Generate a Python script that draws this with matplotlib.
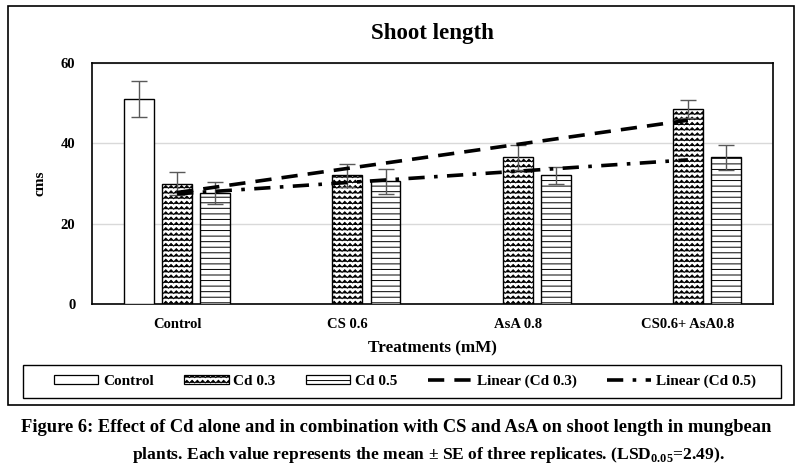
import warnings

import numpy as np
import matplotlib
matplotlib.use('Agg')
import matplotlib.pyplot as plt
import matplotlib.hatch as mhatch
from matplotlib.path import Path
from matplotlib.patches import Patch, Rectangle
from matplotlib.lines import Line2D

warnings.filterwarnings('ignore', message='hatch must consist')

treatments = ['Control', 'CS 0.6', 'AsA 0.8', 'CS0.6+ AsA0.8']
control = [51.0, None, None, None]
control_se = [4.5, None, None, None]
cd03 = [30.0, 32.0, 36.5, 48.5]
cd03_se = [2.8, 2.8, 3.1, 2.2]
cd05 = [27.6, 30.5, 32.0, 36.5]
cd05_se = [2.7, 3.2, 2.2, 3.1]


class ZigZagHatch(mhatch.HatchPatternBase):
    # excel-like zigzag fill, triggered by 'z' in the hatch string
    def __init__(self, hatch, density):
        self.rows = hatch.count('z') * 19
        self.teeth = 19
        self.per = 2 * self.teeth + 1
        self.num_vertices = self.rows * self.per

    def set_vertices_and_codes(self, vertices, codes):
        xs = np.linspace(0, 1, self.per)
        amp = 0.25 / self.rows
        sign = np.where(np.arange(self.per) % 2 == 0, -1.0, 1.0)
        for r in range(self.rows):
            y0 = (r + 0.5) / self.rows
            s = slice(r * self.per, (r + 1) * self.per)
            vertices[s, 0] = xs
            vertices[s, 1] = y0 + amp * sign
            codes[r * self.per] = Path.MOVETO
            codes[r * self.per + 1:(r + 1) * self.per] = Path.LINETO


mhatch._hatch_types.append(ZigZagHatch)

plt.rcParams['font.family'] = ['Liberation Serif', 'DejaVu Serif']
plt.rcParams['font.weight'] = 'bold'
plt.rcParams['axes.titleweight'] = 'bold'
plt.rcParams['axes.labelweight'] = 'bold'
plt.rcParams['mathtext.fontset'] = 'custom'
plt.rcParams['mathtext.rm'] = 'Liberation Serif:bold'
plt.rcParams['mathtext.bf'] = 'Liberation Serif:bold'
plt.rcParams['hatch.linewidth'] = 0.7

fig = plt.figure(figsize=(8.05, 4.75), dpi=100)
ax = fig.add_axes([92 / 805, 1 - 304 / 475, 681 / 805, 241 / 475])

x = np.arange(len(treatments))
w = 0.176
step = 0.224
err_kw = dict(ecolor='#595959', elinewidth=1.0, capsize=5.5, capthick=1.0)

ci = [i for i, v in enumerate(control) if v is not None]
ax.bar(x[ci] - step, [control[i] for i in ci], w,
       yerr=[control_se[i] for i in ci], color='white', edgecolor='black',
       linewidth=1.0, error_kw=err_kw, zorder=3)
ax.bar(x, cd03, w, yerr=cd03_se, color='white', edgecolor='black',
       hatch='z', linewidth=1.0, error_kw=err_kw, zorder=3)
ax.bar(x + step, cd05, w, yerr=cd05_se, color='white', edgecolor='black',
       hatch='---', linewidth=1.0, error_kw=err_kw, zorder=3)

# linear trendlines as in excel (fit over category index)
k3, b3 = np.polyfit(x + 1, cd03, 1)
k5, b5 = np.polyfit(x + 1, cd05, 1)
ax.plot(x, k3 * (x + 1) + b3, color='black', lw=2.6, dashes=(4.5, 2.8),
        dash_capstyle='butt', zorder=4)
ax.plot(x, k5 * (x + 1) + b5, color='black', lw=2.6, dashes=(4.5, 2.6, 1.0, 2.6),
        dash_capstyle='butt', zorder=4)

ax.set_xlim(-0.5, 3.5)
ax.set_ylim(0, 60)
ax.set_yticks([0, 20, 40, 60])
ax.set_xticks(x)
ax.set_xticklabels(treatments)
ax.tick_params(length=0, labelsize=10.5, pad=10)
ax.tick_params(axis='y', pad=12)
ax.grid(axis='y', color='#d9d9d9', lw=1.0, zorder=0)
for s in ax.spines.values():
    s.set_linewidth(1.2)
ax.set_ylabel('cms', fontsize=11, fontweight='bold', labelpad=10)
ax.set_xlabel('Treatments (mM)', fontsize=12.3, fontweight='bold', labelpad=7)
ax.set_title('Shoot length', fontsize=16.5, fontweight='bold', pad=17)

handles = [
    Patch(facecolor='white', edgecolor='black', lw=0.9, label='Control'),
    Patch(facecolor='white', edgecolor='black', hatch='z', lw=0.9, label='Cd 0.3'),
    Patch(facecolor='white', edgecolor='black', hatch='---', lw=0.9, label='Cd 0.5'),
    Line2D([], [], color='black', lw=2.6, dashes=(4.5, 2.8), label='Linear (Cd 0.3)'),
    Line2D([], [], color='black', lw=2.6, dashes=(4.5, 2.6, 1.0, 2.6), label='Linear (Cd 0.5)'),
]
leg = fig.legend(handles=handles, loc='center', ncol=5,
                 bbox_to_anchor=(54 / 805, 1 - 398 / 475, 702 / 805, 33 / 475),
                 mode='expand', fontsize=11, frameon=False,
                 handlelength=2.9, handleheight=0.5,
                 handletextpad=0.3, borderpad=0, borderaxespad=0)

# legend frame and outer chart border
fig.patches.append(Rectangle((23 / 805, 1 - 398 / 475), 758 / 805, 33 / 475,
                             transform=fig.transFigure, fill=False,
                             edgecolor='black', lw=1.0))
fig.patches.append(Rectangle((8 / 805, 1 - 405 / 475), 786 / 805, 399 / 475,
                             transform=fig.transFigure, fill=False,
                             edgecolor='black', lw=1.2))

fig.text(396 / 805, 1 - 428 / 475,
         'Figure 6: Effect of Cd alone and in combination with CS and AsA on shoot length in mungbean',
         ha='center', va='center', fontsize=13.3)
fig.text(428 / 805, 1 - 455 / 475,
         r'plants. Each value represents the mean ± SE of three replicates. (LSD$_{0.05}$=2.49).',
         ha='center', va='center', fontsize=12.6)

fig.savefig('out.png', dpi=100)
